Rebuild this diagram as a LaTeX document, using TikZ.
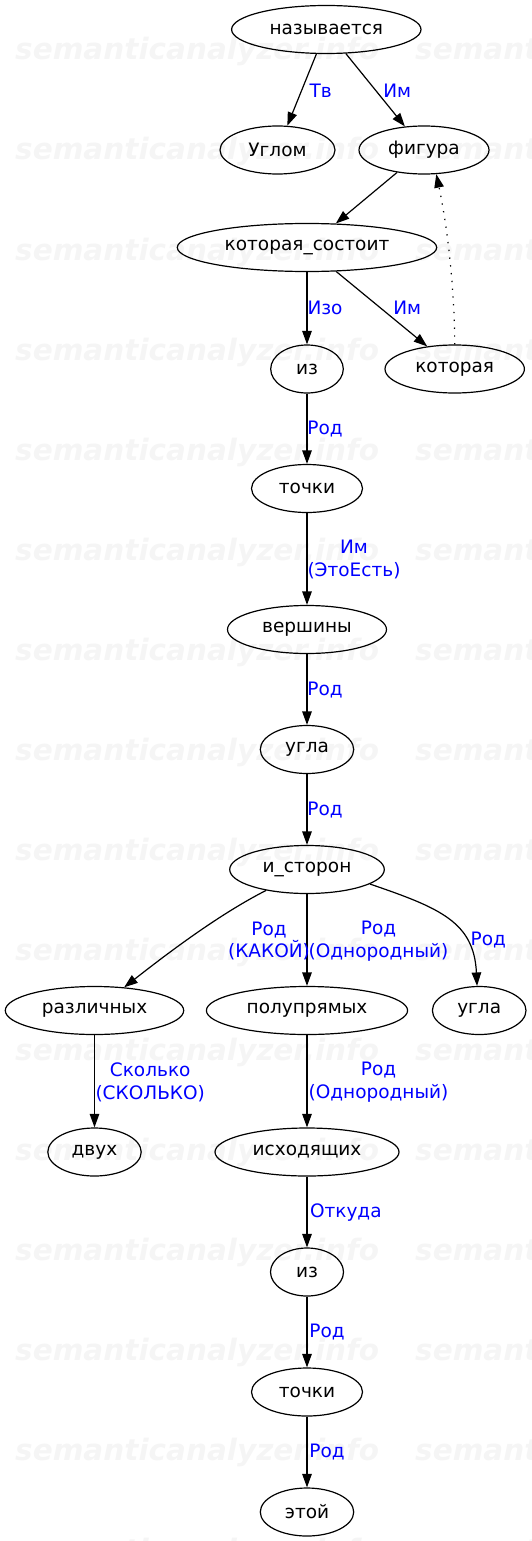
\documentclass[tikz,border=0pt]{standalone}
\usepackage{fontspec}
\setmainfont{DejaVu Sans}
\newfontfamily\wmfont{DejaVu Sans}
\usetikzlibrary{shapes.geometric,arrows.meta}
\newcommand\gvfont{\fontsize{18.5}{22.4}\selectfont}
\tikzset{
  gnode/.style={ellipse, draw, line width=1.2pt, inner sep=0pt, minimum height=48pt, font=\gvfont},
  elabel/.style={text={rgb,255:red,0;green,0;blue,255}, font=\gvfont, align=center, inner sep=0pt},
  gedge/.style={-{Triangle[length=13.5pt,width=9.5pt]}, line width=1.2pt},
  dotedge/.style={gedge, dash pattern=on 1.3pt off 6.5pt},
  wmark/.style={text=gray!8, font={\wmfont\bfseries\itshape\fontsize{29.5}{30}\selectfont}, inner sep=0pt, anchor=base west}
}
\begin{document}
\begin{tikzpicture}[x=1pt,y=-1pt]
\useasboundingbox (0,0) rectangle (532,1541);
% watermark
\foreach \k in {0,...,15}{
  \node[wmark] (wma\k) at (15,60+100*\k) {semanticanalyzer.info};
  \node[wmark] (wmb\k) at (415,60+100*\k) {semanticanalyzer.info};
}
% nodes
\node[gnode, minimum width=189.4pt] (nazyv) at (326.3,29.5) {называется};
\node[gnode, minimum width=115pt] (uglom) at (277.5,150) {Углом};
\node[gnode, minimum width=130pt] (figura) at (424,150) {фигура};
\node[gnode, minimum width=259.4pt] (kotsost) at (307,247.5) {которая\_состоит};
\node[gnode, minimum width=72.6pt] (iz1) at (307,369) {из};
\node[gnode, minimum width=139.4pt] (kotoraya) at (454.7,369) {которая};
\node[gnode, minimum width=111pt] (tochki1) at (307,488.5) {точки};
\node[gnode, minimum width=159pt] (vershiny) at (307,629.5) {вершины};
\node[gnode, minimum width=93.4pt] (ugla1) at (307,749.5) {угла};
\node[gnode, minimum width=154.6pt] (istoron) at (307,869.5) {и\_сторон};
\node[gnode, minimum width=178.4pt] (razl) at (94.5,1010.5) {различных};
\node[gnode, minimum width=201.2pt] (polupr) at (307,1010.5) {полупрямых};
\node[gnode, minimum width=93.6pt] (ugla2) at (479.2,1010.5) {угла};
\node[gnode, minimum width=93.4pt] (dvuh) at (94.5,1152) {двух};
\node[gnode, minimum width=184pt] (ishod) at (307,1152) {исходящих};
\node[gnode, minimum width=73pt] (iz2) at (307,1272) {из};
\node[gnode, minimum width=111pt] (tochki2) at (307,1392) {точки};
\node[gnode, minimum width=93.4pt] (etoy) at (307,1512) {этой};
% edges
\draw[gedge] (nazyv) -- (uglom);
\draw[gedge] (nazyv) -- (figura);
\draw[gedge] (figura) -- (kotsost);
\draw[gedge] (kotsost) -- (iz1);
\draw[gedge] (kotsost) -- (kotoraya);
\draw[dotedge] (kotoraya.90) .. controls (454.5,290) and (448,230) .. (figura.-63);
\draw[gedge] (iz1) -- (tochki1);
\draw[gedge] (tochki1) -- (vershiny);
\draw[gedge] (vershiny) -- (ugla1);
\draw[gedge] (ugla1) -- (istoron);
\draw[gedge] (istoron) .. controls (218.7,914.6) and (168.7,952.5) .. (razl);
\draw[gedge] (istoron) -- (polupr);
\draw[gedge] (istoron.-13) .. controls (440,908) and (474,922) .. (ugla2.95);
\draw[gedge] (razl) -- (dvuh);
\draw[gedge] (polupr) -- (ishod);
\draw[gedge] (ishod) -- (iz2);
\draw[gedge] (iz2) -- (tochki2);
\draw[gedge] (tochki2) -- (etoy);
% edge labels
\node[elabel] (l1) at (320.7,90.8) {Тв};
\node[elabel] (l2) at (397.3,90.8) {Им};
\node[elabel] (l3) at (325,308.2) {Изо};
\node[elabel] (l4) at (407.3,308.2) {Им};
\node[elabel] (l5) at (325,428.8) {Род};
\node[elabel] (l6) at (354,559.5) {Им\\(ЭтоЕсть)};
\node[elabel] (l7) at (325,689.8) {Род};
\node[elabel] (l8) at (325,810.5) {Род};
\node[elabel] (l9) at (269,941) {Род\\(КАКОЙ)};
\node[elabel] (l10) at (378.5,941) {Род\\(Однородный)};
\node[elabel] (l11) at (488.3,939.8) {Род};
\node[elabel] (l12) at (150.2,1082.2) {Сколько\\(СКОЛЬКО)};
\node[elabel] (l13) at (378.5,1082.2) {Род\\(Однородный)};
\node[elabel] (l14) at (345.8,1212.5) {Откуда};
\node[elabel] (l15) at (327,1332.5) {Род};
\node[elabel] (l16) at (327,1452.5) {Род};
\end{tikzpicture}
\end{document}
